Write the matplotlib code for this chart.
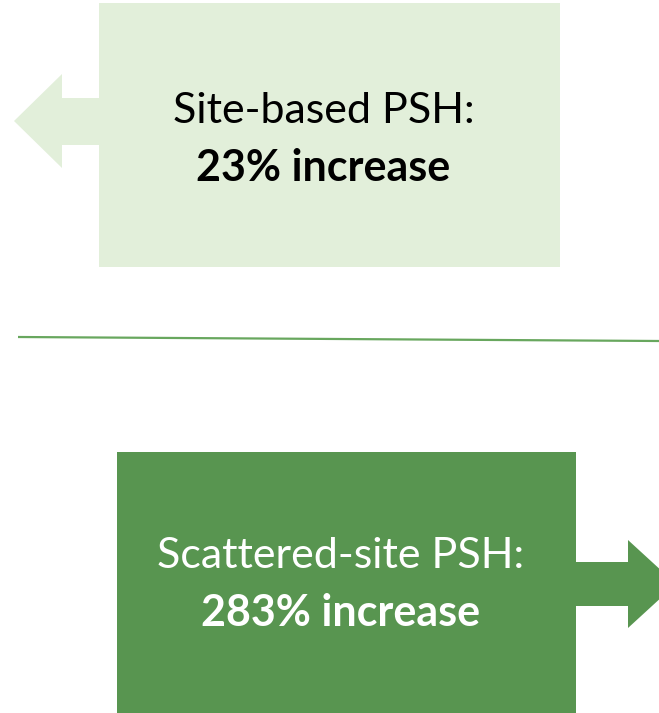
import matplotlib.pyplot as plt
from matplotlib.patches import Rectangle, Polygon

# data
labels = ["Site-based PSH:", "Scattered-site PSH:"]
increases = [23, 283]

# style
box_colors = ["#e2efda", "#589550"]
text_colors = ["#000000", "#ffffff"]

W, H = 659, 713
fig = plt.figure(figsize=(W / 100, H / 100), dpi=100)
ax = fig.add_axes([0, 0, 1, 1])
ax.set_xlim(0, W)
ax.set_ylim(H, 0)
ax.axis("off")

# box layout in pixels: (x0, y0, x1, y1)
boxes = [(99, 3, 560, 267), (117, 452, 576, 713)]
# arrow: direction, shaft y-range, head y-range, head base x, tip x
arrows = [(-1, 98, 145, 74, 168, 62, 14),
          (1, 562, 606, 540, 628, 628, 676)]

for i in range(len(labels)):
    x0, y0, x1, y1 = boxes[i]
    c = box_colors[i]
    d, s0, s1, h0, h1, hb, tip = arrows[i]
    edge = x0 if d < 0 else x1
    ym = (h0 + h1) / 2
    pts = [(edge, s0), (hb, s0), (hb, h0), (tip, ym), (hb, h1), (hb, s1), (edge, s1)]
    ax.add_patch(Polygon(pts, closed=True, facecolor=c, edgecolor="none"))
    ax.add_patch(Rectangle((x0, y0), x1 - x0, y1 - y0, facecolor=c, edgecolor="none"))

    cx = (x0 + x1) / 2 - 6
    base1 = [123, 568][i]
    ax.text(cx, base1, labels[i], ha="center", va="baseline",
            fontsize=31, family="Lato", color=text_colors[i])
    ax.text(cx, base1 + 58, "{}% increase".format(increases[i]), ha="center",
            va="baseline", fontsize=31, family="Lato", fontweight="bold",
            color=text_colors[i])

# divider line
ax.plot([18, W], [337, 341], color="#68a75e", linewidth=1.6, solid_capstyle="butt")

fig.savefig("out.png", dpi=100)
